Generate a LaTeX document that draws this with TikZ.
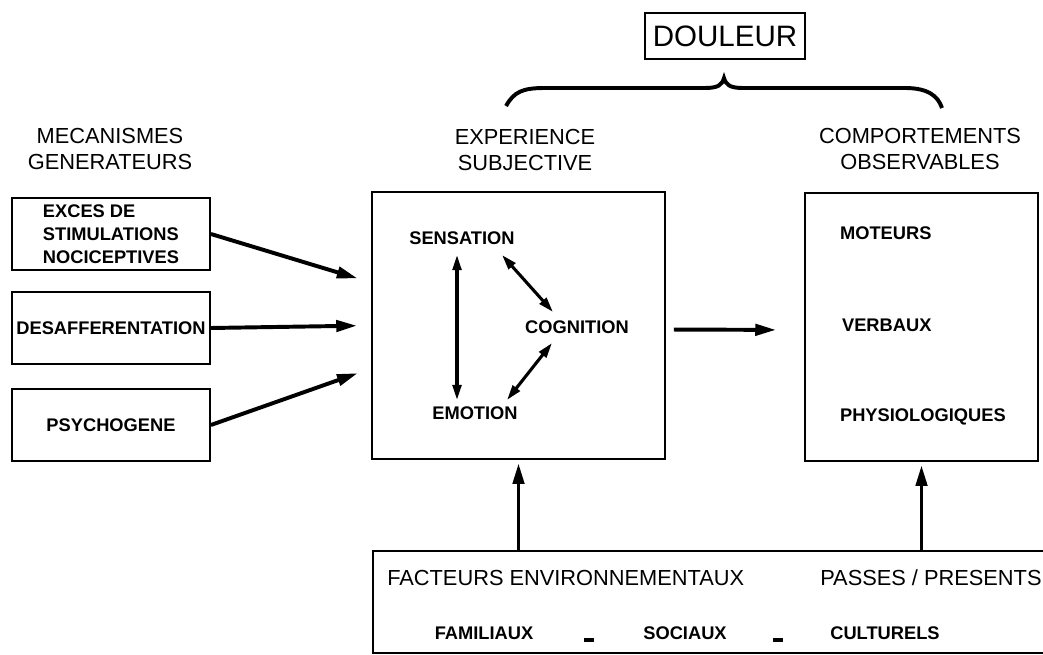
\documentclass[tikz,border=0pt]{standalone}
\usepackage{fontspec}
\setmainfont{Liberation Sans}
\usetikzlibrary{arrows.meta,calc}
\begin{document}
\begin{tikzpicture}[x=0.025cm, y=-0.025cm,
  head/.style={align=center, inner sep=0pt, font=\fontsize{15.5}{18.5}\selectfont},
  item/.style={inner sep=2pt, font=\fontsize{13}{15.4}\selectfont\bfseries},
  box/.style={draw, line width=1.3pt, inner sep=0pt},
  arr/.style={line width=2.8pt, -{Triangle[length=0.52cm,width=0.28cm]}},
  dbl/.style={line width=2.2pt, {Triangle[length=0.38cm,width=0.22cm]}-{Triangle[length=0.38cm,width=0.22cm]}}]
\useasboundingbox (0,0) rectangle (1043,655);

% douleur et accolade
\node[box, minimum width=4cm, minimum height=1.15cm, font=\fontsize{21}{25}\selectfont] (dou) at (725,36) {DOULEUR};
\draw[line width=2.8pt] (506,106) .. controls (514,92) and (522,88) .. (545,88) -- (705,88)
  .. controls (718,88) and (722,85) .. (724,78) .. controls (726,85) and (730,88) .. (743,88)
  -- (905,88) .. controls (928,88) and (938,96) .. (942,108);

% titres des colonnes
\node[head] (meca) at (110,149) {MECANISMES\\GENERATEURS};
\node[head] (subj) at (525,150) {EXPERIENCE\\SUBJECTIVE};
\node[head] (obs) at (920,149) {COMPORTEMENTS\\OBSERVABLES};

% mecanismes
\node[box, item, align=left, font=\fontsize{13}{16.2}\selectfont\bfseries, minimum width=4.95cm, minimum height=1.8cm] (gen1) at (111,234) {EXCES DE\\STIMULATIONS\\NOCICEPTIVES};
\node[box, item, minimum width=4.95cm, minimum height=1.8cm] (gen2) at (111,328) {DESAFFERENTATION};
\node[box, item, minimum width=4.95cm, minimum height=1.8cm] (gen3) at (111,425) {PSYCHOGENE};

% experience subjective
\node[box, minimum width=7.325cm, minimum height=6.675cm] (exp) at (518.5,325.5) {};
\node[item] (sens) at (462,238) {SENSATION};
\node[item] (cog) at (577,327) {COGNITION};
\node[item] (emo) at (475,413) {EMOTION};
\draw[dbl] ($(sens.center)+(-5,17)$) -- ($(emo.center)+(-18,-13)$);
\draw[dbl] ($(sens.center)+(40,17)$) -- ($(cog.center)+(-24,-15)$);
\draw[dbl] ($(cog.center)+(-25,16)$) -- ($(emo.center)+(32,-13)$);

% comportements
\node[box, minimum width=5.825cm, minimum height=6.7cm] (comp) at (921.5,327) {};
\node[item, anchor=west] (mot) at (837,233) {MOTEURS};
\node[item, anchor=west] (verb) at (839,325) {VERBAUX};
\node[item, anchor=west] (phys) at (837,417) {PHYSIOLOGIQUES};

% facteurs
\node[box, minimum width=17.175cm, minimum height=2.55cm] (env) at (716.5,602) {};
\node[head, anchor=west] (fact) at (387,578) {FACTEURS ENVIRONNEMENTAUX};
\node[head, anchor=west] (pass) at (820,578) {PASSES / PRESENTS};
\node[item] (fam) at (484,633) {FAMILIAUX};
\node[inner sep=0pt] (d1) at (589,640) {\rule{0.25cm}{0.1cm}};
\node[item] (soc) at (685,633) {SOCIAUX};
\node[inner sep=0pt] (d2) at (778,640) {\rule{0.25cm}{0.1cm}};
\node[item] (cult) at (885,633) {CULTURELS};

% fleches
\draw[arr, shorten >=0.35cm] (gen1.east) -- ($(exp.west)+(0,-43)$);
\draw[arr, shorten >=0.35cm] (gen2.east) -- (exp.west);
\draw[arr, shorten >=0.35cm] (gen3.east) -- ($(exp.west)+(0,43)$);
\draw[arr, shorten <=0.2cm, shorten >=0.7cm] ($(exp.east)+(0,4)$) -- ($(comp.west)+(0,3)$);
\draw[arr, shorten >=0.08cm] (env.north -| exp.south) -- (exp.south);
\draw[arr, shorten >=0.08cm] (env.north -| comp.south) -- (comp.south);
\end{tikzpicture}
\end{document}
